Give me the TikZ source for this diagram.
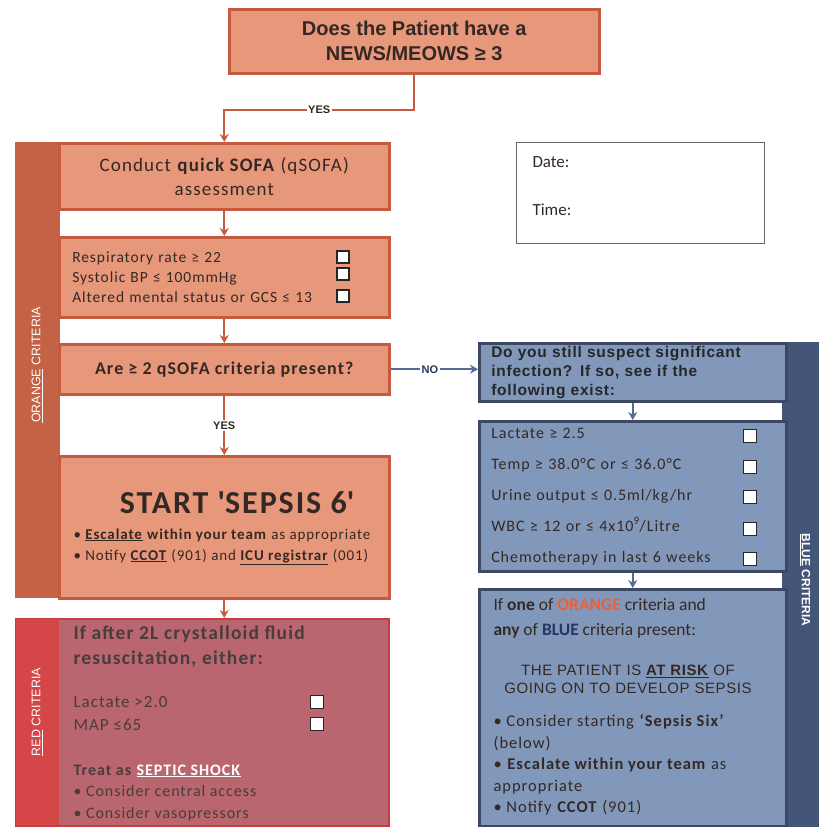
\documentclass[tikz,border=0pt]{standalone}
\usepackage{fontspec}
\setmainfont{Carlito}
\newfontfamily\arialfont{Liberation Sans}
\newfontfamily\scanfont[LetterSpace=6]{Carlito}
\newfontfamily\scanarial[LetterSpace=4]{Liberation Sans}
\newfontfamily\suspectfont[LetterSpace=5,WordSpace=2.2]{Liberation Sans}
\usepackage{tikz}
\usetikzlibrary{positioning,arrows.meta,calc}
\usepackage{xcolor}
\definecolor{salmon}{RGB}{232,152,122}
\definecolor{salmonline}{RGB}{198,90,62}
\definecolor{orangeband}{RGB}{196,98,70}
\definecolor{darktext}{RGB}{52,40,36}
\definecolor{redfill}{RGB}{185,102,112}
\definecolor{redband}{RGB}{212,70,72}
\definecolor{redline}{RGB}{198,62,64}
\definecolor{bluefill}{RGB}{130,152,186}
\definecolor{blueband}{RGB}{68,86,120}
\definecolor{blueline}{RGB}{60,72,100}
\definecolor{bluearrow}{RGB}{86,106,150}
\definecolor{bluetext}{RGB}{40,54,96}
\definecolor{orangeword}{RGB}{236,96,56}
\newcommand{\fs}[2]{\fontsize{#1}{#2}\selectfont}

\begin{document}
\begin{tikzpicture}[x=1pt,y=-1pt,
  obox/.style={rectangle,draw=salmonline,line width=2.5pt,fill=salmon,text=darktext,
    anchor=north west,inner sep=0pt,minimum width=330pt},
  bbox/.style={rectangle,draw=blueline,line width=2.5pt,fill=bluefill,text=darktext,
    anchor=north west,inner sep=0pt,minimum width=307pt},
  tickbox/.style={rectangle,draw=black!85,line width=1.8pt,fill=white,minimum size=12pt,inner sep=0pt},
  oflow/.style={-{Stealth[length=8pt,width=9pt]},salmonline,line width=2pt},
  bflow/.style={-{Stealth[length=8pt,width=9pt]},bluearrow,line width=2pt},
  bandtext/.style={white,font=\arialfont\fs{12.5}{14}},
  flowlabel/.style={fill=white,inner sep=1.5pt,font=\arialfont\bfseries\fs{11}{13}}
]
\useasboundingbox (0,0) rectangle (819,827);

% Top: the question
\node[obox,minimum width=370pt,minimum height=64pt,align=center,
  font=\arialfont\bfseries\fs{20}{25}] (news) at (228,8) {Does the Patient have a\\NEWS/MEOWS ≥ 3};

% Left: orange criteria
\node[fill=orangeband,anchor=north west,inner sep=0pt,minimum width=45pt,minimum height=456pt] (oband) at (15,142) {};
\node[bandtext,rotate=90] (olabel) at (37,365) {\underline{ORANGE} CRITERIA};
\node[obox,minimum height=66pt,align=center,font=\scanfont\fs{19}{24}] (sofa) at (58,142)
  {Conduct \textbf{quick SOFA} (qSOFA)\\assessment};
\node[obox,minimum height=80pt,align=left,text width=304pt,inner xsep=13pt,font=\scanfont\fs{15.5}{20}] (crit) at (58,236)
  {Respiratory rate ≥ 22\\Systolic BP ≤ 100mmHg\\Altered mental status or GCS ≤ 13};
\node[tickbox] (cb1) at (343,257) {};
\node[tickbox] (cb2) at (343,274) {};
\node[tickbox] (cb3) at (343,296) {};
\node[obox,minimum height=50pt,font=\scanfont\bfseries\fs{18}{22}] (qsofa) at (58,343) {Are ≥ 2 qSOFA criteria present?};
\node[obox,minimum height=142pt] (start) at (58,455) {};
\node[font=\scanfont\bfseries\fs{32}{36},text=darktext] (sepsis) at (237,503) {START \textquotesingle SEPSIS 6\textquotesingle};
\node[anchor=north west,align=left,font=\scanfont\fs{15}{21},text=darktext] (escalate) at (70,525)
  {\textbullet\ \underline{\textbf{Escalate}} \textbf{within your team} as appropriate\\
   \textbullet\ Notify \underline{\textbf{CCOT}} (901) and \underline{\textbf{ICU registrar}} (001)};

% Left bottom: red criteria
\node[rectangle,draw=redline,line width=2pt,fill=redfill,anchor=north west,inner sep=0pt,
  minimum width=373pt,minimum height=207pt] (shock) at (15,618) {};
\node[fill=redband,anchor=north west,inner sep=0pt,minimum width=43pt,minimum height=206pt] (rband) at (16,619) {};
\node[bandtext,rotate=90] (rlabel) at (37,712) {\underline{RED} CRITERIA};
\node[anchor=north west,align=left,font=\scanfont\bfseries\fs{19.5}{25},text=darktext!90] (fluid) at (70,622)
  {If after 2L crystalloid fluid\\resuscitation, either:};
\node[anchor=north west,align=left,font=\scanfont\fs{17}{23},text=darktext!90] (redsigns) at (70,693)
  {Lactate >2.0\\MAP ≤65};
\node[tickbox,minimum size=13pt] (cb4) at (317,702) {};
\node[tickbox,minimum size=13pt] (cb5) at (317,724) {};
\node[anchor=north west,align=left,font=\scanfont\fs{16}{21.5},text=darktext!90] (treat) at (70,761)
  {\textbf{Treat as} \textcolor{white}{\underline{\textbf{SEPTIC SHOCK}}}\\
   \textbullet\ Consider central access\\
   \textbullet\ Consider vasopressors};

% Right: stamp
\node[draw=black!60,line width=0.8pt,fill=white,anchor=north west,inner sep=0pt,
  minimum width=248pt,minimum height=101pt] (stamp) at (516,142) {};
\node[anchor=west,font=\fs{17}{20},text=darktext] (date) at (529,162) {Date:};
\node[anchor=west,font=\fs{17}{20},text=darktext] (time) at (529,210) {Time:};

% Right: blue criteria
\node[fill=blueband,anchor=north west,inner sep=0pt,minimum width=37pt,minimum height=485pt] (bband) at (782,342) {};
\node[bandtext,font=\arialfont\bfseries\fs{12}{14},rotate=-90] (blabel) at (805,580) {\underline{BLUE} CRITERIA};
\node[bbox,minimum height=58pt,align=left,text width=283pt,inner xsep=12pt,
  font=\suspectfont\bfseries\fs{15.5}{19},text=black!85] (suspect) at (478,342)
  {Do you still suspect significant\\infection? If so, see if the\\following exist:};
\node[bbox,minimum height=150pt,align=left,text width=283pt,inner xsep=12pt,font=\scanfont\fs{16}{31}] (signs) at (478,420)
  {Lactate ≥ 2.5\\Temp ≥ 38.0°C or ≤ 36.0°C\\Urine output ≤ 0.5ml/kg/hr\\
   WBC ≥ 12 or ≤ 4x10\textsuperscript{9}/Litre\\Chemotherapy in last 6 weeks};
\node[tickbox,minimum size=13pt] (cb6) at (750,436) {};
\node[tickbox,minimum size=13pt] (cb7) at (750,467) {};
\node[tickbox,minimum size=13pt] (cb8) at (750,497) {};
\node[tickbox,minimum size=13pt] (cb9) at (750,529) {};
\node[tickbox,minimum size=13pt] (cb10) at (750,559) {};
\node[bbox,minimum height=237pt] (atrisk) at (478,588) {};
\node[anchor=north west,align=left,font=\fs{17.5}{25},text=darktext] (either) at (490,595)
  {If \textbf{one} of \textcolor{orangeword}{\textbf{ORANGE}} criteria and\\
   \textbf{any} of \textcolor{bluetext}{\textbf{BLUE}} criteria present:};
\node[align=center,font=\scanarial\fs{15}{18},text=darktext] (risk) at (628,679)
  {THE PATIENT IS \underline{\textbf{AT RISK}} OF\\GOING ON TO DEVELOP SEPSIS};
\node[anchor=north west,align=left,font=\scanfont\fs{16.5}{21.5},text=darktext] (consider) at (490,711)
  {\textbullet\ Consider starting \textbf{‘Sepsis Six’}\\(below)\\
   \textbullet\ \textbf{Escalate within your team} as\\appropriate\\
   \textbullet\ Notify \textbf{CCOT} (901)};

% Connectors
\draw[oflow] (news.south) -- ++(0,35) -| node[pos=0.25,flowlabel,text=darktext]{YES} (sofa.north);
\draw[oflow] (sofa.south) -- (crit.north);
\draw[oflow] (crit.south) -- (qsofa.north);
\draw[oflow] (qsofa.south) -- node[flowlabel,text=darktext]{YES} (start.north);
\draw[oflow] (start.south) -- (start.south |- shock.north);
\draw[bflow] (qsofa.east) -- node[flowlabel,text=bluetext,pos=0.45]{NO} (qsofa.east -| suspect.west);
\draw[bflow] (suspect.south) -- (signs.north);
\draw[bflow] (signs.south) -- (atrisk.north);

\end{tikzpicture}
\end{document}
